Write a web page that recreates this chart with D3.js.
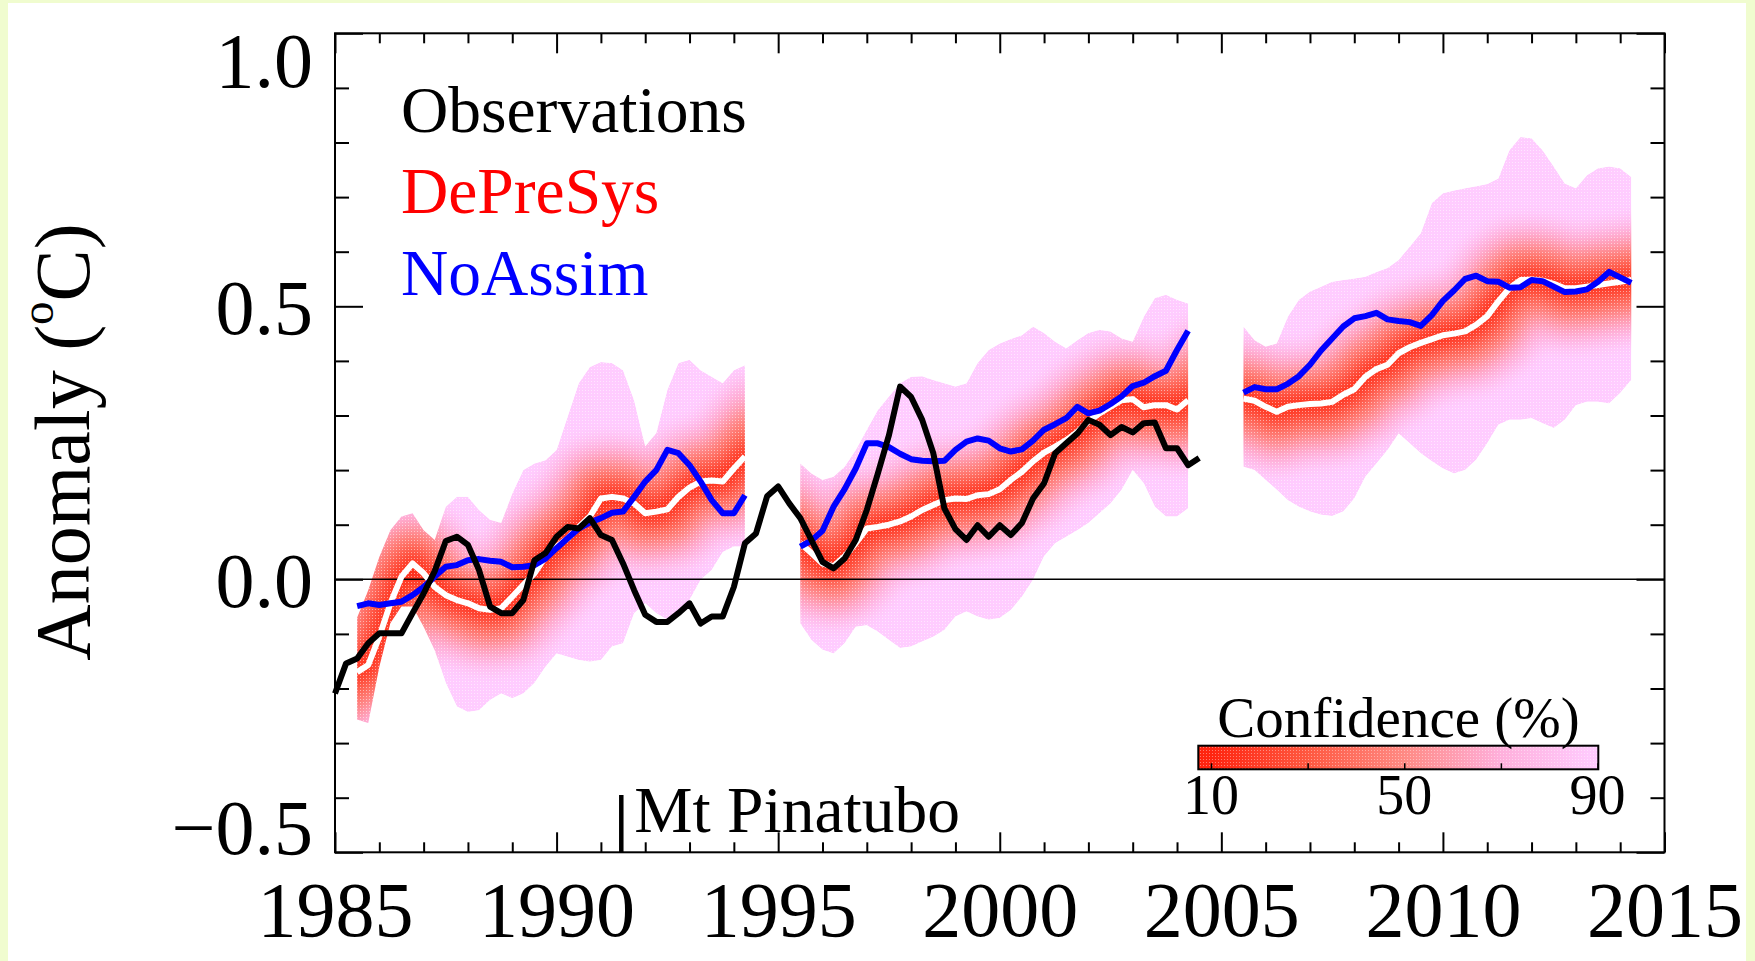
<!DOCTYPE html>
<html>
<head>
<meta charset="utf-8">
<script src="https://cdn.jsdelivr.net/npm/d3@7"></script>
<style>
  body { margin: 0; background: #f0fccf; }
  text { font-family: "Liberation Serif", "Times New Roman", serif; }
</style>
</head>
<body>
<div id="chart"></div>
<script>
// Hindcast anomaly chart: observations vs DePreSys / NoAssim with confidence shading

// ---- data (quarterly values) ----
var obsStart = 1985.0;
var observations = [-0.209, -0.154, -0.145, -0.117, -0.099, -0.099, -0.099, -0.062, -0.026, 0.015,
  0.070, 0.078, 0.063, 0.017, -0.050, -0.062, -0.062, -0.038, 0.035, 0.048,
  0.078, 0.096, 0.093, 0.112, 0.081, 0.072, 0.029, -0.020, -0.065, -0.078,
  -0.078, -0.062, -0.044, -0.081, -0.068, -0.068, -0.014, 0.066, 0.084, 0.152,
  0.170, 0.139, 0.112, 0.072, 0.032, 0.020, 0.038, 0.072, 0.127, 0.194,
  0.264, 0.353, 0.334, 0.292, 0.231, 0.130, 0.092, 0.072, 0.099, 0.078,
  0.099, 0.081, 0.103, 0.148, 0.176, 0.231, 0.249, 0.267, 0.292, 0.283,
  0.264, 0.279, 0.269, 0.286, 0.287, 0.240, 0.240, 0.209, 0.222];

var segStarts = [1985.5, 1995.5, 2005.5];

// DePreSys ensemble median (white line)
var depresys1 = [-0.170, -0.157, -0.105, -0.044, 0.005, 0.029, 0.011, -0.014, -0.029, -0.038,
  -0.044, -0.053, -0.056, -0.053, -0.032, -0.010, 0.011, 0.041, 0.060, 0.075,
  0.096, 0.115, 0.148, 0.151, 0.148, 0.139, 0.121, 0.124, 0.128, 0.151,
  0.168, 0.179, 0.181, 0.179, 0.203, 0.225];
var depresys2 = [0.066, 0.048, 0.029, 0.024, 0.042, 0.066, 0.093, 0.096, 0.100, 0.106,
  0.115, 0.127, 0.136, 0.145, 0.148, 0.147, 0.154, 0.156, 0.165, 0.182,
  0.197, 0.216, 0.232, 0.243, 0.255, 0.270, 0.289, 0.304, 0.316, 0.328,
  0.330, 0.315, 0.319, 0.319, 0.311, 0.328];
var depresys3 = [0.331, 0.327, 0.316, 0.307, 0.316, 0.319, 0.321, 0.322, 0.325, 0.338,
  0.348, 0.371, 0.385, 0.393, 0.414, 0.425, 0.433, 0.440, 0.447, 0.450,
  0.454, 0.466, 0.482, 0.509, 0.533, 0.548, 0.549, 0.547, 0.541, 0.533,
  0.533, 0.536, 0.539, 0.542, 0.545, 0.548];

// NoAssim (blue line)
var noassim1 = [-0.049, -0.044, -0.047, -0.044, -0.041, -0.029, -0.014, 0.005, 0.023, 0.026,
  0.035, 0.037, 0.034, 0.032, 0.022, 0.023, 0.026, 0.038, 0.057, 0.075,
  0.093, 0.104, 0.112, 0.122, 0.124, 0.151, 0.179, 0.200, 0.237, 0.231,
  0.209, 0.179, 0.145, 0.121, 0.121, 0.154];
var noassim2 = [0.060, 0.071, 0.089, 0.133, 0.165, 0.203, 0.249, 0.249, 0.242, 0.230,
  0.220, 0.217, 0.216, 0.217, 0.237, 0.252, 0.258, 0.254, 0.240, 0.234,
  0.238, 0.254, 0.274, 0.284, 0.295, 0.316, 0.304, 0.309, 0.321, 0.335,
  0.354, 0.360, 0.372, 0.382, 0.420, 0.455];
var noassim3 = [0.342, 0.352, 0.348, 0.348, 0.358, 0.372, 0.393, 0.419, 0.441, 0.463,
  0.478, 0.482, 0.488, 0.476, 0.473, 0.471, 0.464, 0.484, 0.510, 0.529,
  0.550, 0.556, 0.546, 0.545, 0.534, 0.535, 0.548, 0.546, 0.536, 0.526,
  0.527, 0.531, 0.545, 0.563, 0.553, 0.543];

// 90% confidence range of DePreSys
var hi90_1 = [-0.070, -0.020, 0.041, 0.090, 0.115, 0.121, 0.090, 0.072, 0.133, 0.151,
  0.151, 0.127, 0.109, 0.103, 0.157, 0.200, 0.212, 0.218, 0.237, 0.298,
  0.359, 0.389, 0.398, 0.396, 0.383, 0.328, 0.243, 0.268, 0.347, 0.396,
  0.402, 0.383, 0.371, 0.359, 0.383, 0.392];
var lo90_1 = [-0.257, -0.263, -0.160, -0.080, -0.050, -0.050, -0.087, -0.130, -0.190, -0.233,
  -0.243, -0.240, -0.221, -0.209, -0.218, -0.209, -0.190, -0.160, -0.136, -0.142,
  -0.148, -0.151, -0.148, -0.123, -0.117, -0.062, -0.044, -0.062, -0.074, -0.062,
  -0.038, -0.001, 0.017, 0.050, 0.060, 0.060];
var hi90_2 = [0.212, 0.194, 0.182, 0.188, 0.206, 0.237, 0.274, 0.310, 0.335, 0.359,
  0.371, 0.372, 0.365, 0.359, 0.353, 0.359, 0.396, 0.420, 0.432, 0.440,
  0.447, 0.463, 0.451, 0.435, 0.423, 0.438, 0.451, 0.457, 0.454, 0.441,
  0.435, 0.481, 0.515, 0.521, 0.512, 0.505];
var lo90_2 = [-0.081, -0.111, -0.129, -0.136, -0.117, -0.087, -0.084, -0.096, -0.111, -0.126,
  -0.123, -0.114, -0.105, -0.093, -0.068, -0.059, -0.068, -0.074, -0.071, -0.056,
  -0.032, -0.001, 0.042, 0.066, 0.078, 0.090, 0.103, 0.121, 0.139, 0.164,
  0.200, 0.176, 0.133, 0.115, 0.115, 0.130];
var hi90_3 = [0.463, 0.438, 0.426, 0.432, 0.481, 0.512, 0.527, 0.536, 0.545, 0.548,
  0.551, 0.554, 0.563, 0.570, 0.585, 0.609, 0.634, 0.689, 0.707, 0.712,
  0.716, 0.720, 0.724, 0.734, 0.786, 0.810, 0.808, 0.786, 0.756, 0.725,
  0.716, 0.740, 0.753, 0.756, 0.753, 0.737];
var lo90_3 = [0.206, 0.200, 0.182, 0.164, 0.145, 0.133, 0.124, 0.118, 0.116, 0.124,
  0.148, 0.188, 0.212, 0.237, 0.267, 0.249, 0.231, 0.216, 0.203, 0.194,
  0.200, 0.219, 0.249, 0.283, 0.292, 0.292, 0.295, 0.286, 0.277, 0.292,
  0.319, 0.325, 0.325, 0.322, 0.341, 0.365];

var xMajor = [1985, 1990, 1995, 2000, 2005, 2010, 2015];
var yMajor = [-0.5, 0.0, 0.5, 1.0];
var confLevels = [10, 30, 50, 70, 90];
var confColors = ["#ff2410", "#ff5840", "#ff8a84", "#ffb0dc", "#ffccff"];
var confLabels = [10, 50, 90];
var pinatubo = 1991.46;

// ---- layout ----
var svgWidth = 1755;
var svgHeight = 961;
var plotL = 335, plotR = 1664.5, plotT = 33.3, plotB = 852.3;

var svg = d3.select("#chart")
  .append("svg")
  .attr("width", svgWidth)
  .attr("height", svgHeight);

svg.append("rect").attr("width", svgWidth).attr("height", svgHeight).attr("fill", "#f0fccf");
svg.append("rect").attr("x", 8).attr("y", 3).attr("width", 1738).attr("height", svgHeight - 3).attr("fill", "#fff");

var x = d3.scaleLinear().domain([1985, 2015]).range([plotL, plotR]);
var y = d3.scaleLinear().domain([-0.5, 1.0]).range([plotB, plotT]);
var conf = d3.scaleLinear().domain(confLevels).range(confColors);

var defs = svg.append("defs");
defs.append("filter")
  .attr("id", "soft")
  .attr("filterUnits", "userSpaceOnUse")
  .attr("x", 0).attr("y", 0).attr("width", svgWidth).attr("height", svgHeight)
  .append("feGaussianBlur").attr("stdDeviation", 9);

var dots = defs.append("pattern")
  .attr("id", "dots")
  .attr("patternUnits", "userSpaceOnUse")
  .attr("width", 3).attr("height", 3);
dots.append("rect").attr("width", 1).attr("height", 1).attr("fill", "#fff");

// ---- DePreSys segments ----
var segments = [
  { start: segStarts[0], med: depresys1, blue: noassim1, lo: lo90_1, hi: hi90_1 },
  { start: segStarts[1], med: depresys2, blue: noassim2, lo: lo90_2, hi: hi90_2 },
  { start: segStarts[2], med: depresys3, blue: noassim3, lo: lo90_3, hi: hi90_3 }
];

var area = d3.area().x(d => x(d.t)).y0(d => y(d.lo)).y1(d => y(d.hi));
var line = d3.line().x(d => x(d.t)).y(d => y(d.v));

// widths of the blurred core strokes (px)
var coreLayers = [{ level: 70, w: 115 }, { level: 50, w: 80 }, { level: 30, w: 46 }, { level: 10, w: 18 }];

segments.forEach(function(s, i) {
  var rows = s.med.map(function(v, k) {
    return { t: s.start + k * 0.25, v: v, lo: s.lo[k], hi: s.hi[k] };
  });
  s.rows = rows;
  s.blueRows = s.blue.map(function(v, k) { return { t: s.start + k * 0.25, v: v }; });

  defs.append("clipPath").attr("id", "band" + i)
    .append("path").attr("d", area(rows));

  var g = svg.append("g").attr("clip-path", "url(#band" + i + ")");
  g.append("path").attr("d", area(rows)).attr("fill", conf(90));

  var soft = g.append("g").attr("filter", "url(#soft)");
  coreLayers.forEach(function(l) {
    soft.append("path")
      .attr("d", line(rows))
      .attr("fill", "none")
      .attr("stroke", conf(l.level))
      .attr("stroke-width", l.w)
      .attr("stroke-linecap", "square")
      .attr("stroke-linejoin", "round");
  });

  g.append("rect")
    .attr("x", plotL).attr("y", plotT)
    .attr("width", plotR - plotL).attr("height", plotB - plotT)
    .attr("fill", "url(#dots)")
    .attr("opacity", 0.5);
});

// zero line
svg.append("line")
  .attr("x1", x(1985)).attr("x2", x(2015))
  .attr("y1", y(0)).attr("y2", y(0))
  .attr("stroke", "#000").attr("stroke-width", 1.5);

// ---- lines ----
segments.forEach(function(s) {
  svg.append("path").attr("d", line(s.rows))
    .attr("fill", "none").attr("stroke", "#fff").attr("stroke-width", 6)
    .attr("stroke-linejoin", "round");
});
segments.forEach(function(s) {
  svg.append("path").attr("d", line(s.blueRows))
    .attr("fill", "none").attr("stroke", "#0000ff").attr("stroke-width", 6)
    .attr("stroke-linejoin", "round");
});

var obsRows = observations.map(function(v, k) { return { t: obsStart + k * 0.25, v: v }; });
svg.append("path").attr("d", line(obsRows))
  .attr("fill", "none").attr("stroke", "#000").attr("stroke-width", 6)
  .attr("stroke-linejoin", "round");

// ---- axes ----
var xMinor = d3.range(1985, 2016).filter(v => xMajor.indexOf(v) < 0);
var yMinor = d3.range(-5, 11).map(v => v / 10).filter(v => yMajor.indexOf(v) < 0);

function styleAxis(g) {
  g.select(".domain").remove();
  g.selectAll(".tick line").attr("stroke", "#000").attr("stroke-width", 2);
}

svg.append("g").attr("transform", `translate(0,${plotB})`)
  .call(d3.axisBottom(x).tickValues(xMinor).tickSizeInner(-10).tickSizeOuter(0).tickFormat(""))
  .call(styleAxis);
var xAxisG = svg.append("g").attr("transform", `translate(0,${plotB})`)
  .call(d3.axisBottom(x).tickValues(xMajor).tickSizeInner(-20).tickSizeOuter(0).tickFormat(d3.format("d")))
  .call(styleAxis);
xAxisG.selectAll("text")
  .attr("y", 84).attr("dy", null)
  .attr("font-size", 78)
  .attr("font-family", "Liberation Serif")
  .attr("fill", "#000");

svg.append("g").attr("transform", `translate(0,${plotT})`)
  .call(d3.axisTop(x).tickValues(xMinor).tickSizeInner(-10).tickSizeOuter(0).tickFormat(""))
  .call(styleAxis);
svg.append("g").attr("transform", `translate(0,${plotT})`)
  .call(d3.axisTop(x).tickValues(xMajor).tickSizeInner(-20).tickSizeOuter(0).tickFormat(""))
  .call(styleAxis);

svg.append("g").attr("transform", `translate(${plotL},0)`)
  .call(d3.axisLeft(y).tickValues(yMinor).tickSizeInner(-14).tickSizeOuter(0).tickFormat(""))
  .call(styleAxis);
var yAxisG = svg.append("g").attr("transform", `translate(${plotL},0)`)
  .call(d3.axisLeft(y).tickValues(yMajor).tickSizeInner(-28).tickSizeOuter(0)
    .tickFormat(d => d3.format(".1f")(d).replace("-", "\u2212")))
  .call(styleAxis);
yAxisG.selectAll("text")
  .attr("x", -22)
  .attr("dy", null)
  .attr("y", d => d === 1.0 ? 53.4 : (d === -0.5 ? 1 : 26.8))
  .attr("font-size", 78)
  .attr("font-family", "Liberation Serif")
  .attr("fill", "#000");

svg.append("g").attr("transform", `translate(${plotR},0)`)
  .call(d3.axisRight(y).tickValues(yMinor).tickSizeInner(-14).tickSizeOuter(0).tickFormat(""))
  .call(styleAxis);
svg.append("g").attr("transform", `translate(${plotR},0)`)
  .call(d3.axisRight(y).tickValues(yMajor).tickSizeInner(-28).tickSizeOuter(0).tickFormat(""))
  .call(styleAxis);

// frame
svg.append("rect")
  .attr("x", plotL).attr("y", plotT)
  .attr("width", plotR - plotL).attr("height", plotB - plotT)
  .attr("fill", "none").attr("stroke", "#000").attr("stroke-width", 2);

// axis title
var yTitle = svg.append("text")
  .attr("transform", "translate(89,442) rotate(-90)")
  .attr("text-anchor", "middle")
  .attr("font-size", 78)
  .attr("fill", "#000");
yTitle.append("tspan").text("Anomaly (");
yTitle.append("tspan").attr("font-size", 47).attr("dy", -36).text("o");
yTitle.append("tspan").attr("dy", 36).text("C)");

// ---- legend ----
var legend = [
  { label: "Observations", color: "#000" },
  { label: "DePreSys", color: "#ff0000" },
  { label: "NoAssim", color: "#0000ff" }
];
svg.append("g").selectAll("text")
  .data(legend)
  .enter()
  .append("text")
  .attr("x", 401)
  .attr("y", (d, i) => 131.7 + i * 81.7)
  .attr("font-size", 65.5)
  .attr("fill", d => d.color)
  .text(d => d.label);

// Mt Pinatubo marker
svg.append("line")
  .attr("x1", x(pinatubo)).attr("x2", x(pinatubo))
  .attr("y1", 795).attr("y2", plotB)
  .attr("stroke", "#000").attr("stroke-width", 4.5);
svg.append("text")
  .attr("x", x(pinatubo) + 13)
  .attr("y", 831.7)
  .attr("font-size", 65.5)
  .attr("fill", "#000")
  .text("Mt Pinatubo");

// ---- confidence colour bar ----
var cb = d3.scaleLinear().domain([10, 90]).range([1211, 1597.5]);
var barX0 = 1198.3, barX1 = 1598.3, barY = 745.7, barH = 23.6;

var grad = defs.append("linearGradient")
  .attr("id", "confGrad")
  .attr("gradientUnits", "userSpaceOnUse")
  .attr("x1", barX0).attr("x2", barX1).attr("y1", 0).attr("y2", 0);
grad.selectAll("stop")
  .data(confLevels)
  .enter()
  .append("stop")
  .attr("offset", d => (cb(d) - barX0) / (barX1 - barX0))
  .attr("stop-color", d => conf(d));

svg.append("rect")
  .attr("x", barX0).attr("y", barY)
  .attr("width", barX1 - barX0).attr("height", barH)
  .attr("fill", "url(#confGrad)");
svg.append("rect")
  .attr("x", barX0).attr("y", barY)
  .attr("width", barX1 - barX0).attr("height", barH)
  .attr("fill", "url(#dots)").attr("opacity", 0.4);

svg.append("g").attr("transform", `translate(0,${barY + barH})`)
  .call(d3.axisBottom(cb).tickValues(confLevels).tickSizeInner(-6).tickSizeOuter(0).tickFormat(""))
  .call(function(g) {
    g.select(".domain").remove();
    g.selectAll(".tick line").attr("stroke", "#000").attr("stroke-width", 1.5);
  });

svg.append("rect")
  .attr("x", barX0).attr("y", barY)
  .attr("width", barX1 - barX0).attr("height", barH)
  .attr("fill", "none").attr("stroke", "#000").attr("stroke-width", 2);

svg.append("g").selectAll("text")
  .data(confLabels)
  .enter()
  .append("text")
  .attr("x", d => cb(d))
  .attr("y", 814.3)
  .attr("text-anchor", "middle")
  .attr("font-size", 56)
  .attr("fill", "#000")
  .text(d => d);

svg.append("text")
  .attr("x", 1398.5)
  .attr("y", 736.7)
  .attr("text-anchor", "middle")
  .attr("font-size", 57)
  .attr("fill", "#000")
  .text("Confidence (%)");
</script>
</body>
</html>
